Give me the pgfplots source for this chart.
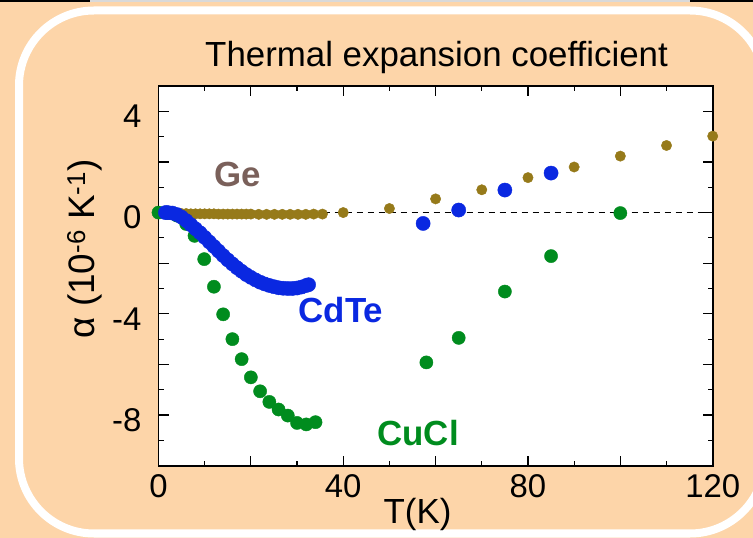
\documentclass[border=0pt]{standalone}
\usepackage{pgfplots}
\pgfplotsset{compat=1.18}
\usepackage{fontspec}
\setmainfont{Liberation Sans}
\definecolor{peach}{HTML}{FDD5A9}
\definecolor{geol}{HTML}{967A1A}
\definecolor{cdblue}{HTML}{0A28E1}
\definecolor{cugreen}{HTML}{008C1E}
\definecolor{gelab}{HTML}{7A605A}
\begin{document}
\begin{tikzpicture}
\useasboundingbox (0bp,0bp) rectangle (753bp,538bp);
\fill[peach] (0bp,0bp) rectangle (753bp,538bp);
\draw[white, line width=8bp, rounded corners=75bp] (19bp,4.5bp) rectangle (765bp,527.5bp);
\draw[black!15, line width=2bp] (0bp,537bp) -- (753bp,537bp);
\draw[black, line width=2bp] (0bp,537bp) -- (90bp,537bp);
\draw[black, line width=2bp] (690bp,537bp) -- (753bp,537bp);
\begin{axis}[
  at={(158.5bp,72.3bp)}, anchor=south west,
  width=554.2bp, height=379.7bp, scale only axis,
  xmin=0, xmax=120, ymin=-10, ymax=5,
  axis background/.style={fill=white},
  xtick={0,20,...,120}, xticklabels={0,,40,,80,,120},
  minor xtick={10,30,...,110},
  ytick={-10,-8,...,4}, yticklabels={,-8,,-4,,0,,4},
  minor ytick={-9,-7,...,3},
  tick align=inside,
  major tick length=10bp, minor tick length=5bp,
  every tick/.style={black, line width=1.2bp},
  axis line style={line width=1.6bp},
  tick label style={font=\fontsize{33}{33}\selectfont},
  xticklabel style={anchor=north, inner sep=0pt, yshift=-9bp},
  yticklabel style={anchor=east, inner sep=0pt, xshift=-17bp, yshift=-5bp},
  /pgf/number format/assume math mode=true,
]
\addplot[only marks, mark=*, mark size=5.2bp, color=geol, mark options={fill=geol, draw=geol}] coordinates {
(2,-0.02) (3,-0.03) (4,-0.03) (5,-0.04) (6,-0.04) (7,-0.05) (8,-0.05) (9,-0.05) (10,-0.05)
(11,-0.05) (12,-0.05) (13,-0.06) (14,-0.06) (15,-0.06) (16,-0.06) (17,-0.06) (18,-0.06)
(19,-0.06) (20,-0.06) (21.7,-0.07) (23.4,-0.07) (25.1,-0.07) (26.8,-0.07) (28.5,-0.07)
(30.2,-0.07) (31.9,-0.07) (33.6,-0.06) (35.5,-0.06)
(40,0.0) (50,0.16) (60,0.54) (70,0.9) (80,1.38) (90,1.8) (100,2.23) (110,2.65) (120,3.02)
};
\addplot[only marks, mark=*, mark size=6.6bp, color=cugreen, mark options={fill=cugreen, draw=cugreen}] coordinates {
(0,0) (2,-0.02) (4,-0.12) (6,-0.45) (7.8,-0.92) (9.9,-1.84) (12,-2.93) (14,-4.02)
(16,-5.0) (18,-5.79) (20,-6.51) (22,-7.06) (24,-7.48) (26,-7.78) (28,-8.02) (30,-8.31)
(32,-8.37) (34,-8.28)
(58,-5.92) (65,-4.95) (75,-3.12) (85,-1.72) (100,-0.02)
};
\addplot[only marks, mark=*, mark size=7.1bp, color=cdblue, mark options={fill=cdblue, draw=cdblue}] coordinates {
(1.5,0.0) (2,0.0) (3,-0.02) (4,-0.08) (5,-0.18) (6,-0.32) (7,-0.48) (8,-0.64) (9,-0.80)
(10,-0.98) (11,-1.16) (12,-1.34) (13,-1.52) (14,-1.70) (15,-1.87) (16,-2.03) (17,-2.18)
(18,-2.32) (19,-2.45) (20,-2.56) (21,-2.66) (22,-2.75) (23,-2.82) (24,-2.88) (25,-2.93)
(26,-2.97) (27,-2.99) (28,-3.00) (29,-3.00) (30,-2.98) (31,-2.94) (32,-2.88) (32.5,-2.85)
(57.3,-0.43) (65,0.1) (75,0.89) (85,1.56)
};
\addplot[black, line width=1.2bp, dash pattern=on 6bp off 5bp] coordinates {(0,0) (120,0)};
\node[font=\bfseries\fontsize{35}{35}\selectfont, text=gelab] at (axis cs:17.2,1.5) {Ge};
\node[font=\bfseries\fontsize{35}{35}\selectfont, text=cdblue] at (axis cs:39.5,-3.85) {CdTe};
\node[font=\bfseries\fontsize{35}{35}\selectfont, text=cugreen] at (axis cs:56.2,-8.69) {CuCl};
\end{axis}
\node[font=\fontsize{35}{35}\selectfont, anchor=base] at (436.5bp,471.3bp) {Thermal expansion coefficient};
\node[font=\fontsize{35}{35}\selectfont, anchor=base] at (417.5bp,15bp) {T(K)};
\node[font=\fontsize{37}{37}\selectfont, anchor=base, rotate=90] at (94bp,289bp) {α (10\textsuperscript{-6} K\textsuperscript{-1})};
\end{tikzpicture}
\end{document}
